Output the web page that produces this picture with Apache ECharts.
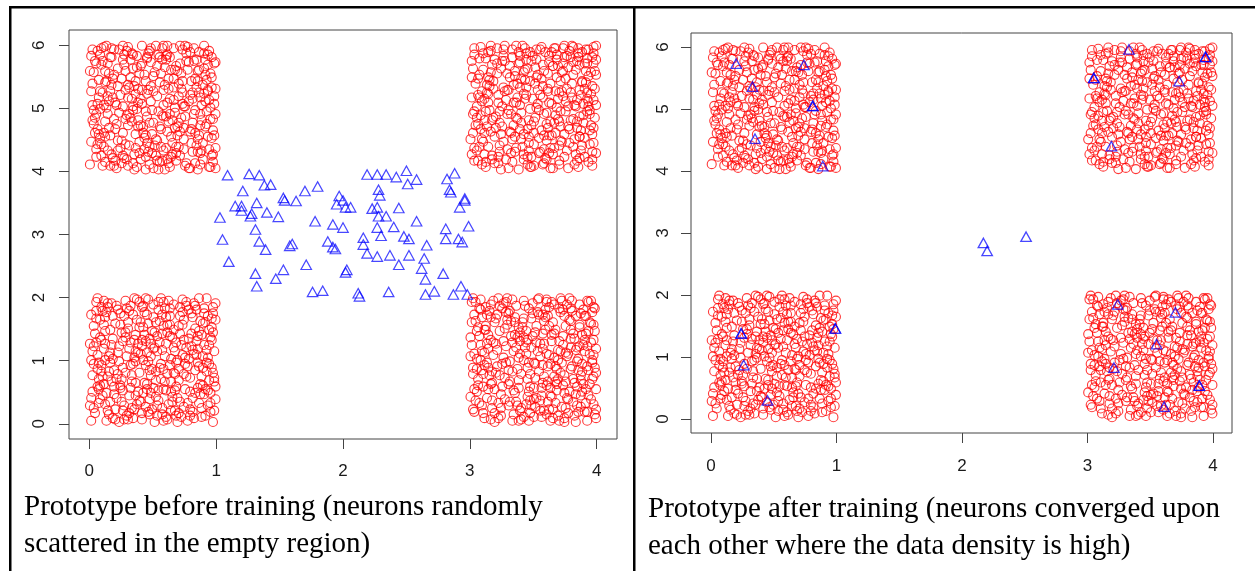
<!DOCTYPE html>
<html>
<head>
<meta charset="utf-8">
<script src="https://cdn.jsdelivr.net/npm/echarts@6/dist/echarts.min.js"></script>
<style>
  html, body { margin: 0; background: #fff; }
  #chart { width: 1255px; height: 571px; }
</style>
</head>
<body>
<div id="chart"></div>
<script>
const X_TICKS = [0, 1, 2, 3, 4]
const Y_TICKS = [0, 1, 2, 3, 4, 5, 6]
const CAPTION_BEFORE = 'Prototype before training (neurons randomly\nscattered in the empty region)'
const CAPTION_AFTER = 'Prototype after training (neurons converged upon\neach other where the data density is high)'

// red data points, one list per square, as (x, y) pairs in hundredths of the square
// (square is 1 wide and 2 tall, so y step is 0.02)
const redLL = [
  72,5, 13,88, 45,31, 90,62, 27,14, 58,77, 6,43, 81,20, 39,96, 64,51, 18,67, 95,9, 33,38, 50,84,
  77,45, 2,25, 86,73, 22,56, 61,3, 41,61, 9,92, 68,29, 97,40, 30,80, 54,18, 15,7, 83,93, 46,49,
  74,66, 25,35, 88,12, 4,71, 57,58, 36,22, 93,85, 12,50, 66,94, 49,11, 79,36, 20,79, 1,2, 43,70,
  60,26, 84,54, 31,89, 7,16, 52,41, 96,76, 17,33, 70,8, 38,63, 91,27, 28,97, 63,69, 11,59, 47,19,
  80,87, 34,47, 99,19, 55,64, 23,1, 67,39, 5,83, 44,13, 85,48, 16,74, 59,91, 32,28, 76,60, 94,34,
  19,42, 53,6, 87,81, 40,55, 8,30, 65,17, 26,65, 92,99, 48,24, 73,78, 14,10, 35,52, 98,57, 57,86,
  3,61, 82,4, 42,93, 69,50, 21,20, 89,44, 51,72, 10,37, 62,15, 37,82, 75,27, 29,6, 95,68, 46,98,
  15,53, 78,90, 56,35, 0,14, 84,65, 33,12, 67,57, 24,87, 90,23, 44,46, 11,78, 58,2, 71,71, 39,40,
  97,92, 6,54, 50,28, 86,16, 28,72, 63,85, 18,4, 41,66, 79,11, 9,46, 54,96, 93,52, 36,32, 70,43,
  22,90, 47,7, 83,75, 13,24, 60,63, 99,29, 31,59, 76,96, 4,8, 52,80, 88,37, 26,44, 65,21, 43,88,
  8,68, 74,13, 35,99, 92,58, 56,47, 19,29, 81,84, 48,63, 2,38, 68,6, 30,75, 96,83, 61,39, 14,95,
  85,28, 40,17, 71,92, 23,49, 98,10, 53,69, 10,22, 45,56, 77,2, 34,86, 64,33, 89,79, 17,62, 57,12,
  94,47, 27,3, 66,74, 5,96, 49,43, 80,61, 37,15, 12,84, 91,6, 59,53, 24,30, 73,88, 42,76, 1,50,
  62,97, 87,23, 20,11, 55,81, 32,64, 97,72, 7,35, 69,20, 44,99, 83,42, 16,48, 51,1, 78,67, 38,25,
  29,53, 90,87, 58,27, 3,77, 75,52, 46,9, 11,31, 66,60, 99,95, 25,17, 54,90, 82,55, 36,70, 70,34,
  13,2, 48,38, 93,14, 21,93, 63,46, 0,63, 86,99, 40,80, 79,25, 31,8, 57,71, 8,19, 72,62, 96,44,
  42,50, 18,85, 67,10, 88,70, 26,26, 53,57, 5,89, 76,37, 34,4, 95,24, 61,78, 15,41, 82,95, 47,67,
  39,18, 74,82, 9,66, 60,5, 85,59, 22,39, 50,94, 98,33, 29,91, 68,48, 3,12, 45,27, 91,80, 16,56,
  77,16, 32,46, 56,99, 12,73, 89,30, 65,68, 41,3, 7,48, 94,62, 24,78, 52,21, 81,9, 36,57, 71,85,
  19,23, 58,43, 84,90, 1,86, 43,32, 97,1, 28,68, 64,25, 11,97, 49,73, 92,41, 35,11, 73,54, 6,29,
  50,59, 7,27, 63,91, 28,40, 95,16, 17,95, 78,51, 41,8, 85,69, 3,47, 59,33, 32,93, 70,77, 23,61,
  88,5, 46,79, 12,15, 67,26, 36,49, 99,82, 55,44, 20,3, 74,39, 5,64, 42,24, 90,91, 61,72, 27,85,
  81,58, 14,37, 53,14, 37,98, 96,66, 69,1, 8,82, 48,53, 87,31, 25,72, 64,10, 33,33, 76,93, 1,20,
  44,65, 92,48, 18,51, 58,96, 71,17, 10,89, 39,76, 83,24, 26,10, 66,40, 97,87, 51,60, 6,99, 35,66,
  60,84, 21,35, 79,6, 47,42, 94,74, 12,63, 54,26, 30,3, 73,98, 89,53, 2,57, 41,92, 68,64, 16,17,
  86,45, 38,56, 57,7, 24,28, 98,36, 63,78, 9,41, 45,86, 80,71, 31,22, 75,47, 14,92, 52,34, 93,26
]
const redUL = [
  34,92, 81,15, 7,58, 62,73, 19,4, 95,41, 48,86, 26,30, 73,62, 11,19, 57,97, 88,52, 40,9, 3,78,
  69,35, 22,67, 91,88, 45,22, 14,45, 79,2, 53,59, 30,98, 97,13, 6,33, 64,80, 37,49, 85,71, 18,10,
  50,38, 76,93, 2,96, 41,64, 93,27, 25,6, 67,46, 9,84, 58,16, 32,74, 87,36, 15,55, 71,99, 44,1,
  99,65, 28,21, 60,88, 5,11, 83,48, 38,40, 12,70, 74,25, 47,95, 21,37, 90,81, 55,7, 33,57, 68,14,
  17,90, 95,3, 43,76, 79,60, 8,26, 61,31, 26,51, 86,94, 52,12, 1,63, 70,69, 36,18, 92,47, 13,99,
  57,44, 40,83, 84,20, 20,8, 66,97, 4,42, 31,66, 96,74, 49,29, 75,51, 10,87, 63,3, 89,9, 28,79,
  45,61, 72,77, 16,28, 54,92, 81,38, 35,13, 98,85, 23,46, 65,22, 7,72, 87,58, 42,35, 59,68, 0,5,
  78,86, 29,95, 93,64, 11,52, 50,2, 67,34, 34,81, 85,15, 19,76, 61,54, 97,32, 39,23, 73,96, 5,17,
  24,60, 56,19, 90,99, 14,85, 44,47, 80,71, 3,48, 68,8, 30,36, 94,56, 51,78, 17,13, 63,90, 86,28,
  37,3, 8,92, 75,43, 48,67, 22,24, 99,18, 58,52, 32,88, 83,6, 12,39, 70,59, 41,99, 95,77, 27,10,
  64,27, 2,69, 53,83, 88,40, 16,63, 46,15, 76,87, 36,29, 91,55, 59,1, 9,97, 80,33, 25,73, 49,48,
  71,12, 96,90, 40,57, 14,16, 62,65, 33,93, 85,25, 6,53, 55,35, 77,80, 21,2, 44,71, 99,45, 66,56,
  29,44, 82,97, 11,30, 57,8, 89,68, 36,61, 4,87, 70,19, 47,38, 93,84, 18,58, 63,45, 39,14, 78,2,
  52,99, 15,77, 74,34, 34,51, 97,7, 60,91, 24,18, 86,62, 43,26, 8,63, 69,79, 30,4, 92,37, 55,70,
  19,41, 65,13, 1,23, 81,57, 45,89, 27,84, 94,17, 58,43, 13,71, 75,99, 38,54, 87,5, 50,63, 6,95,
  67,50, 42,30, 98,59, 23,96, 79,31, 10,4, 56,77, 31,20, 84,88, 3,37, 61,9, 48,55, 91,76, 35,67,
  76,6, 20,33, 46,93, 89,22, 14,59, 72,65, 54,1, 0,79, 37,91, 95,50, 26,88, 82,45, 62,39, 9,21,
  44,11, 93,92, 28,64, 68,83, 5,45, 53,24, 85,79, 17,97, 60,18, 32,42, 98,28, 73,53, 41,85, 12,7,
  58,64, 87,14, 22,81, 47,5, 79,94, 7,29, 34,48, 96,66, 65,40, 16,90, 51,20, 90,61, 39,77, 71,31,
  2,52, 83,73, 26,12, 61,99, 45,43, 99,86, 12,27, 74,17, 30,68, 55,90, 94,3, 20,54, 66,73, 38,35,
  63,57, 9,12, 86,80, 31,45, 48,97, 75,4, 17,68, 96,26, 40,36, 59,82, 2,40, 81,62, 27,92, 68,19,
  13,50, 53,8, 90,93, 36,71, 72,42, 5,85, 44,28, 98,53, 22,16, 66,66, 85,1, 30,58, 56,33, 77,98,
  10,62, 47,19, 92,72, 19,96, 60,43, 34,6, 83,30, 1,91, 71,85, 41,53, 97,41, 25,24, 64,11, 50,75,
  88,16, 15,34, 58,99, 37,82, 78,55, 6,21, 46,64, 94,95, 29,9, 69,28, 12,79, 54,47, 82,87, 33,39,
  73,71, 21,52, 99,2, 43,17, 61,92, 8,49, 87,45, 26,99, 52,25, 93,63, 16,4, 67,80, 38,65, 80,22,
  4,30, 57,88, 35,1, 91,35, 18,73, 74,51, 45,90, 96,12, 28,41, 62,6, 11,98, 84,66, 49,14, 70,38
]
const redLR = [
  55,18, 12,74, 88,41, 36,93, 69,6, 3,55, 47,29, 91,85, 24,12, 79,67, 15,38, 60,98, 33,2, 96,50,
  41,80, 74,24, 8,90, 63,47, 28,61, 85,9, 51,72, 19,27, 97,78, 44,15, 6,35, 71,88, 38,52, 89,31,
  22,4, 58,63, 93,96, 11,46, 77,19, 35,84, 66,37, 0,21, 49,95, 83,58, 27,75, 62,11, 16,66, 98,7,
  45,44, 80,89, 31,33, 70,2, 4,81, 53,57, 87,22, 18,97, 64,70, 39,10, 95,64, 9,14, 57,86, 30,42,
  76,53, 14,59, 42,68, 99,27, 25,91, 67,16, 2,39, 86,76, 50,5, 34,26, 72,97, 92,45, 20,83, 61,33,
  7,69, 83,1, 38,76, 59,90, 17,18, 94,55, 46,48, 73,30, 29,99, 65,80, 10,8, 52,20, 90,66, 26,52,
  68,43, 1,96, 40,3, 81,71, 56,28, 21,45, 97,92, 33,64, 75,12, 13,86, 48,60, 87,38, 5,25, 62,77,
  36,17, 91,16, 23,93, 58,37, 78,82, 11,56, 44,73, 69,58, 99,4, 30,31, 53,98, 84,49, 16,3, 73,69,
  49,87, 3,9, 64,21, 93,73, 27,36, 80,97, 39,55, 6,76, 57,46, 87,13, 20,63, 71,40, 43,93, 96,35,
  13,48, 60,7, 86,61, 32,81, 75,33, 47,18, 8,98, 90,85, 24,23, 66,52, 38,2, 79,74, 54,41, 1,62,
  93,22, 28,88, 51,13, 17,32, 70,65, 42,97, 84,29, 5,51, 61,85, 34,7, 98,44, 12,92, 77,55, 45,35,
  66,94, 22,16, 89,90, 55,63, 9,42, 74,4, 37,68, 95,19, 19,80, 63,28, 48,83, 82,67, 31,49, 2,11,
  80,45, 46,25, 14,70, 71,99, 99,59, 40,39, 58,10, 26,95, 87,87, 6,30, 52,64, 76,20, 35,80, 92,2,
  18,54, 62,92, 85,51, 30,14, 4,96, 68,31, 43,60, 97,37, 23,73, 56,5, 10,39, 79,91, 50,28, 88,70,
  33,98, 72,48, 0,68, 47,8, 91,27, 16,84, 59,74, 82,6, 37,43, 64,96, 25,29, 94,80, 7,16, 55,53,
  78,25, 42,83, 11,4, 97,66, 65,11, 28,48, 86,94, 51,36, 3,86, 73,62, 19,1, 60,55, 93,42, 39,72,
  84,14, 20,40, 54,99, 8,62, 75,77, 45,21, 99,11, 31,89, 67,45, 13,20, 90,57, 57,32, 26,65, 70,91,
  2,44, 49,69, 81,35, 35,24, 95,97, 61,17, 16,94, 42,50, 77,8, 29,78, 88,47, 53,88, 9,57, 68,26,
  57,71, 92,61, 24,6, 74,85, 38,34, 12,77, 63,2, 97,54, 46,91, 83,23, 5,73, 31,17, 69,50, 44,64,
  21,86, 87,34, 58,81, 14,27, 96,88, 40,12, 79,60, 2,99, 66,71, 34,57, 90,9, 51,47, 17,41, 74,38,
  27,19, 71,57, 5,43, 60,96, 92,9, 39,65, 15,89, 82,32, 48,14, 67,74, 96,48, 21,58, 54,86, 10,29,
  86,78, 33,41, 74,1, 1,80, 45,66, 63,22, 98,91, 17,12, 57,59, 79,43, 28,96, 8,50, 91,71, 50,19,
  36,60, 69,35, 13,63, 88,25, 42,5, 76,94, 23,38, 95,79, 61,45, 4,18, 52,77, 84,60, 30,87, 72,13,
  16,31, 59,84, 99,40, 44,55, 7,91, 81,17, 35,70, 65,4, 25,47, 94,31, 11,74, 56,22, 78,99, 47,39,
  89,62, 19,8, 64,65, 38,28, 0,53, 73,90, 50,48, 97,15, 29,82, 83,85, 14,44, 60,30, 41,76, 92,97,
  3,27, 75,56, 32,69, 55,10, 98,73, 22,99, 67,33, 9,84, 46,2, 85,42, 37,14, 79,81, 18,64, 62,54
]
const redUR = [
  27,63, 84,8, 49,91, 6,37, 71,24, 35,79, 93,55, 17,12, 60,46, 41,99, 88,70, 12,89, 65,2, 3,18,
  79,40, 22,54, 55,15, 97,85, 44,66, 9,5, 68,92, 31,31, 86,27, 53,76, 15,48, 74,11, 38,94, 95,61,
  61,34, 1,74, 47,3, 82,52, 25,87, 70,20, 13,62, 91,96, 36,42, 57,58, 99,14, 19,27, 77,82, 42,9,
  8,98, 63,69, 89,38, 29,17, 52,88, 75,47, 16,78, 40,25, 96,4, 5,51, 67,63, 33,7, 85,93, 48,36,
  20,43, 93,75, 58,28, 11,13, 73,97, 37,58, 81,19, 26,91, 64,53, 2,30, 45,81, 98,42, 34,68, 70,5,
  54,48, 14,94, 87,16, 43,72, 6,60, 78,33, 30,2, 62,86, 96,67, 23,38, 50,21, 83,80, 10,23, 67,44,
  39,52, 92,89, 18,71, 59,10, 76,65, 3,92, 46,40, 85,3, 28,56, 72,78, 13,35, 99,99, 51,69, 35,15,
  90,26, 24,81, 66,97, 8,44, 80,58, 41,19, 57,67, 19,6, 94,48, 48,87, 31,74, 74,29, 1,87, 62,14,
  45,33, 86,64, 11,57, 69,83, 33,25, 97,22, 55,96, 22,11, 77,51, 4,69, 60,37, 39,86, 93,7, 16,95,
  73,59, 29,45, 88,94, 50,4, 7,76, 64,28, 42,61, 95,78, 17,40, 81,41, 36,99, 58,17, 26,66, 84,87,
  12,3, 68,74, 47,49, 90,11, 21,97, 56,32, 2,45, 76,91, 32,14, 97,56, 43,80, 63,2, 9,63, 80,69,
  57,84, 34,36, 92,47, 15,72, 70,8, 44,93, 87,60, 24,29, 61,77, 5,16, 82,25, 49,57, 99,88, 37,41,
  66,18, 19,88, 53,64, 94,32, 28,9, 78,95, 40,46, 10,80, 71,35, 86,84, 46,22, 25,51, 59,94, 91,70,
  4,36, 83,13, 31,83, 62,54, 97,98, 14,19, 51,42, 75,73, 38,1, 89,53, 7,89, 67,30, 43,97, 22,60,
  79,90, 48,11, 95,36, 30,64, 56,98, 12,47, 86,43, 65,13, 0,25, 40,73, 73,85, 21,85, 88,20, 52,50,
  35,27, 98,65, 17,9, 69,57, 44,88, 82,5, 6,73, 60,24, 27,99, 91,79, 50,39, 14,54, 76,16, 33,90,
  63,39, 9,55, 85,97, 39,33, 71,71, 23,20, 96,29, 47,94, 18,65, 58,6, 92,62, 3,8, 68,50, 42,78,
  87,32, 26,96, 54,26, 11,40, 74,90, 36,54, 99,76, 61,63, 16,31, 81,98, 45,5, 29,77, 94,45, 65,83,
  7,58, 52,74, 78,22, 32,45, 90,85, 20,34, 64,94, 1,13, 43,57, 84,34, 26,23, 72,63, 39,91, 96,15,
  58,79, 15,67, 93,51, 46,16, 70,39, 3,97, 37,69, 81,86, 23,47, 62,28, 97,93, 12,7, 55,60, 84,56,
  50,30, 14,74, 77,2, 38,85, 92,57, 5,42, 63,18, 29,64, 85,90, 45,11, 9,25, 71,47, 33,96, 97,34,
  56,73, 22,6, 81,76, 1,58, 40,38, 68,88, 94,21, 17,84, 53,53, 86,10, 30,48, 74,99, 10,93, 61,65,
  36,18, 89,44, 47,71, 6,8, 79,62, 25,35, 65,83, 98,79, 42,29, 14,61, 57,5, 83,51, 21,77, 72,23,
  3,47, 52,96, 96,9, 34,54, 69,41, 11,30, 88,71, 44,60, 77,35, 24,1, 62,91, 92,85, 18,42, 54,14,
  80,99, 39,66, 7,19, 66,38, 99,52, 27,87, 58,45, 86,27, 13,68, 48,3, 73,79, 32,30, 93,96, 2,81,
  42,13, 75,55, 16,99, 60,9, 90,65, 35,75, 67,97, 8,33, 51,82, 84,39, 23,15, 96,90, 46,27, 70,62
]
// [list, x of square corner, y of square corner]
const SQUARES = [[redLL, 0, 0], [redUL, 0, 4], [redLR, 3, 0], [redUR, 3, 4]]

// neurons (blue triangles) before training
const blueBefore = [
  [1.09,3.94],[1.26,3.96],[1.34,3.94],[1.38,3.78],[1.43,3.79],[1.21,3.69],[1.15,3.45],[1.20,3.45],
  [1.20,3.38],[1.32,3.50],[1.28,3.33],[1.27,3.29],[1.40,3.35],[1.03,3.27],[1.49,3.28],[1.31,3.08],
  [1.05,2.92],[1.34,2.89],[1.39,2.76],[1.58,2.82],[1.60,2.85],[1.10,2.57],[1.31,2.38],[1.32,2.18],
  [1.47,2.30],[1.53,2.44],[1.71,2.52],[1.53,3.58],[1.54,3.54],[1.63,3.53],[1.70,3.69],[1.80,3.76],
  [1.78,3.21],[1.76,2.09],[1.84,2.11],[1.88,2.89],[1.92,2.80],[1.94,2.77],[1.92,3.16],[2.00,3.11],
  [2.03,2.44],[2.02,2.40],[1.97,3.61],[1.95,3.48],[2.00,3.54],[2.02,3.43],[2.06,3.43],[2.12,2.07],
  [2.13,2.02],[2.16,2.95],[2.16,2.84],[2.19,2.70],[2.27,2.65],[2.27,3.11],[2.30,2.98],[2.23,3.41],
  [2.28,3.29],[2.34,3.29],[2.27,3.43],[2.28,3.71],[2.29,3.62],[2.19,3.95],[2.27,3.95],[2.34,3.95],
  [2.42,3.91],[2.50,4.01],[2.51,3.80],[2.58,3.87],[2.44,3.42],[2.40,3.12],[2.37,2.67],[2.44,2.52],
  [2.36,2.09],[2.48,2.97],[2.52,2.93],[2.52,2.67],[2.58,3.21],[2.66,2.83],[2.64,2.62],[2.62,2.46],
  [2.65,2.29],[2.65,2.05],[2.72,2.10],[2.79,2.38],[2.82,3.88],[2.88,3.97],[2.84,3.71],[2.85,3.67],
  [2.96,3.57],[2.96,3.54],[2.92,3.43],[2.99,3.13],[2.81,3.09],[2.81,2.93],[2.91,2.93],[2.94,2.88],
  [2.87,2.05],[2.93,2.18],[2.98,2.05]
]
// neurons after training (repeated entries = several neurons on one spot)
const blueAfter = [
  [0.20,5.73],[0.74,5.71],[0.33,5.36],[0.81,5.05],[0.81,5.05],[0.35,4.52],[0.89,4.08],
  [3.33,5.96],[3.94,5.84],[3.94,5.84],[3.05,5.50],[3.05,5.50],[3.73,5.45],[3.19,4.40],
  [0.24,1.38],[0.24,1.38],[0.99,1.46],[0.99,1.46],[0.26,0.87],[0.45,0.30],
  [3.24,1.85],[3.70,1.72],[3.55,1.21],[3.21,0.83],[3.89,0.54],[3.89,0.54],[3.61,0.20],
  [2.17,2.84],[2.20,2.71],[2.51,2.94]
]

function redPoints() {
  const pts = []
  SQUARES.forEach(([list, x0, y0]) => {
    for (let i = 0; i < list.length; i += 2) {
      pts.push([x0 + (list[i] + 0.5) / 100, y0 + (list[i + 1] + 0.5) / 50])
    }
  })
  return pts
}

const LABEL = { color: '#1a1a1a', fontSize: 17, fontFamily: 'Liberation Sans' }
const TICK_LINE = { color: '#444', width: 1 }

function xAxis(gridIndex, min, max, margin) {
  return {
    type: 'value', gridIndex, min, max,
    axisLine: { show: false, onZero: false },
    splitLine: { show: false },
    axisTick: { show: true, length: 10, lineStyle: TICK_LINE, customValues: X_TICKS },
    axisLabel: { ...LABEL, margin, customValues: X_TICKS }
  }
}
function yAxis(gridIndex, min, max, margin) {
  return {
    type: 'value', gridIndex, min, max,
    axisLine: { show: false, onZero: false },
    splitLine: { show: false },
    axisTick: { show: true, length: 10, lineStyle: TICK_LINE, customValues: Y_TICKS },
    axisLabel: { ...LABEL, margin, rotate: 90, customValues: Y_TICKS }
  }
}
function scatter(idx, data, symbol, size, stroke, width) {
  return {
    type: 'scatter', xAxisIndex: idx, yAxisIndex: idx, data, symbol, symbolSize: size,
    silent: true, progressive: 0, animation: false,
    itemStyle: { color: 'transparent', borderColor: stroke, borderWidth: width, opacity: 1 }
  }
}

const RED = 'rgba(255,0,0,0.78)'
const BLUE = 'rgba(0,0,255,0.72)'
const chart = echarts.init(document.getElementById('chart'))
const red = redPoints()

chart.setOption({
  animation: false,
  grid: [
    { left: 69, top: 30, width: 548, height: 409, show: true, borderColor: '#444', borderWidth: 1 },
    { left: 691, top: 33, width: 541, height: 400, show: true, borderColor: '#444', borderWidth: 1 }
  ],
  xAxis: [xAxis(0, -0.16, 4.16, 24), xAxis(1, -0.16, 4.151, 25)],
  yAxis: [yAxis(0, -0.24, 6.24, 21), yAxis(1, -0.225, 6.225, 19)],
  series: [
    scatter(0, red, 'circle', 9, RED, 1.1),
    scatter(0, blueBefore, 'triangle', [10.5, 9.5], BLUE, 1.2),
    scatter(1, red, 'circle', 9, RED, 1.1),
    scatter(1, blueAfter, 'triangle', [10.5, 9.5], BLUE, 1.3)
  ],
  graphic: [
    { type: 'rect', shape: { x: 9, y: 6, width: 1246, height: 2.5 }, style: { fill: '#000' } },
    { type: 'rect', shape: { x: 9, y: 6, width: 2.5, height: 565 }, style: { fill: '#000' } },
    { type: 'rect', shape: { x: 633, y: 6, width: 2.5, height: 565 }, style: { fill: '#000' } },
    { type: 'text', left: 24, top: 489,
      style: { text: CAPTION_BEFORE, fontSize: 29, fontFamily: 'Liberation Serif', lineHeight: 37, fill: '#000' } },
    { type: 'text', left: 648, top: 491,
      style: { text: CAPTION_AFTER, fontSize: 29, fontFamily: 'Liberation Serif', lineHeight: 37, fill: '#000' } }
  ]
})
window.addEventListener('resize', () => chart.resize())
</script>
</body>
</html>
